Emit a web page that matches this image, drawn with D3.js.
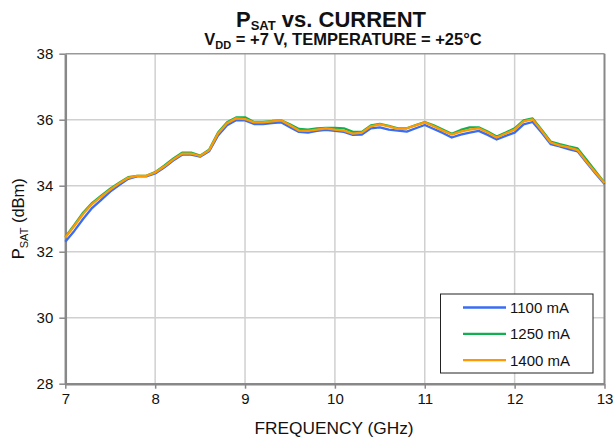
<!DOCTYPE html>
<html><head><meta charset="utf-8">
<script src="https://cdn.jsdelivr.net/npm/d3@7"></script>
<style>body{margin:0;background:#fff}svg{display:block;font-family:"Liberation Sans",Arial,sans-serif}</style>
</head><body><svg id="c" width="613" height="442"></svg>
<script>
const freq = [7.0,7.1,7.2,7.3,7.4,7.5,7.6,7.7,7.8,7.9,8.0,8.1,8.2,8.3,8.4,8.5,8.6,8.7,8.8,8.9,9.0,9.1,9.2,9.3,9.4,9.5,9.6,9.7,9.8,9.9,10.0,10.1,10.2,10.3,10.4,10.5,10.6,10.7,10.8,10.9,11.0,11.1,11.2,11.3,11.4,11.5,11.6,11.7,11.8,11.9,12.0,12.1,12.2,12.3,12.4,12.5,12.6,12.7,12.8,12.9,13.0];
const p1100 = [32.30,32.63,33.00,33.33,33.57,33.82,34.02,34.21,34.28,34.28,34.37,34.55,34.76,34.94,34.94,34.88,35.04,35.52,35.83,35.98,35.98,35.87,35.87,35.90,35.92,35.77,35.63,35.61,35.66,35.69,35.66,35.63,35.54,35.55,35.74,35.77,35.70,35.67,35.64,35.74,35.84,35.72,35.60,35.46,35.55,35.61,35.66,35.54,35.40,35.51,35.61,35.86,35.93,35.61,35.26,35.19,35.11,35.04,34.70,34.37,34.05];
const p1250 = [32.45,32.81,33.19,33.48,33.70,33.91,34.09,34.26,34.30,34.30,34.41,34.61,34.82,35.00,35.00,34.91,35.09,35.61,35.92,36.07,36.07,35.93,35.93,35.96,35.98,35.86,35.72,35.70,35.74,35.75,35.75,35.74,35.63,35.63,35.83,35.87,35.81,35.74,35.74,35.84,35.93,35.83,35.70,35.57,35.69,35.77,35.77,35.64,35.49,35.61,35.74,35.98,36.04,35.70,35.34,35.26,35.19,35.13,34.79,34.44,34.09];
const p1400 = [32.43,32.78,33.15,33.45,33.67,33.88,34.07,34.24,34.30,34.30,34.40,34.58,34.79,34.97,34.97,34.90,35.07,35.58,35.89,36.04,36.02,35.92,35.92,35.95,35.98,35.83,35.67,35.66,35.70,35.74,35.70,35.67,35.58,35.61,35.80,35.86,35.80,35.72,35.74,35.83,35.92,35.80,35.67,35.55,35.64,35.70,35.74,35.61,35.46,35.58,35.70,35.95,36.01,35.67,35.31,35.22,35.16,35.08,34.73,34.40,34.08];
const seriesNames = ["1100 mA","1250 mA","1400 mA"];
const seriesColors = ["#3a6cf4","#10b050","#ff9900"];
const xTicks = [7,8,9,10,11,12,13];
const yTicks = [28,30,32,34,36,38];

const svg = d3.select("#c");
const L=65.3, R=604.5, T=53.7, B=383.7;
const x = d3.scaleLinear().domain([7,13]).range([L,R]);
const y = d3.scaleLinear().domain([28,38]).range([B,T]);

// gridlines
svg.append("g").selectAll("line").data(xTicks.slice(1,-1)).join("line")
  .attr("x1",d=>x(d)).attr("x2",d=>x(d)).attr("y1",T).attr("y2",B)
  .attr("stroke","#d0d0d0").attr("stroke-width",1.5);
svg.append("g").selectAll("line").data(yTicks.slice(1,-1)).join("line")
  .attr("x1",L).attr("x2",R).attr("y1",d=>y(d)).attr("y2",d=>y(d))
  .attr("stroke","#d0d0d0").attr("stroke-width",1.5);
// plot border top/right
svg.append("line").attr("x1",L).attr("x2",R).attr("y1",T).attr("y2",T).attr("stroke","#999").attr("stroke-width",1.5);
svg.append("line").attr("x1",R).attr("x2",R).attr("y1",T).attr("y2",B).attr("stroke","#888").attr("stroke-width",2);

// axes
const xAxis = svg.append("g").attr("transform",`translate(0,${B})`)
  .call(d3.axisBottom(x).tickValues(xTicks).tickFormat(d3.format("d")).tickSizeInner(5).tickSizeOuter(0).tickPadding(5));
const yAxis = svg.append("g").attr("transform",`translate(${L},0)`)
  .call(d3.axisLeft(y).tickValues(yTicks).tickFormat(d3.format("d")).tickSizeInner(6).tickSizeOuter(0).tickPadding(6));
[xAxis,yAxis].forEach(a=>{
  a.select(".domain").attr("stroke","#888").attr("stroke-width",2.5);
  a.selectAll(".tick line").attr("stroke","#888").attr("stroke-width",1.5);
  a.selectAll(".tick text").attr("fill","#111").style("font-size","15px").style("font-family","'Liberation Sans',Arial,sans-serif");
});

// lines
const line = d3.line().x((d,i)=>x(freq[i])).y(d=>y(d));
[p1100,p1250,p1400].forEach((s,k)=>{
  svg.append("path").datum(s).attr("d",line).attr("fill","none")
    .attr("stroke",seriesColors[k]).attr("stroke-width",2.3).attr("stroke-linejoin","round");
});

// legend
const lg = svg.append("g");
lg.append("rect").attr("x",440.5).attr("y",294).attr("width",152.5).attr("height",79)
  .attr("fill","#fff").attr("stroke","#222").attr("stroke-width",1);
seriesNames.forEach((n,k)=>{
  const yy = 307.5 + k*26.3;
  lg.append("line").attr("x1",463).attr("x2",506).attr("y1",yy).attr("y2",yy)
    .attr("stroke",seriesColors[k]).attr("stroke-width",2.3);
  lg.append("text").attr("x",510).attr("y",yy+5.5).text(n).style("font-size","15px").attr("fill","#111");
});

// titles
const t1 = svg.append("text").attr("x",331).attr("y",26.5).attr("text-anchor","middle")
  .style("font-size","22px").style("font-weight","bold").attr("fill","#111");
t1.append("tspan").text("P");
t1.append("tspan").text("SAT").style("font-size","13px").attr("dy",3);
t1.append("tspan").text(" vs. CURRENT").attr("dy",-3);
const t2 = svg.append("text").attr("x",343).attr("y",44.5).attr("text-anchor","middle")
  .style("font-size","16.5px").style("font-weight","bold").attr("fill","#111");
t2.append("tspan").text("V");
t2.append("tspan").text("DD").style("font-size","11px").attr("dy",4);
t2.append("tspan").text(" = +7 V, TEMPERATURE = +25°C").attr("dy",-4);

svg.append("text").attr("x",334).attr("y",434).attr("text-anchor","middle")
  .style("font-size","17.3px").attr("fill","#111").text("FREQUENCY (GHz)");
const yl = svg.append("text").attr("transform",`translate(24,${(T+B)/2}) rotate(-90)`).attr("text-anchor","middle")
  .style("font-size","16.5px").attr("fill","#111");
yl.append("tspan").text("P");
yl.append("tspan").text("SAT").style("font-size","11px").attr("dy",4);
yl.append("tspan").text(" (dBm)").attr("dy",-4);
</script></body></html>
